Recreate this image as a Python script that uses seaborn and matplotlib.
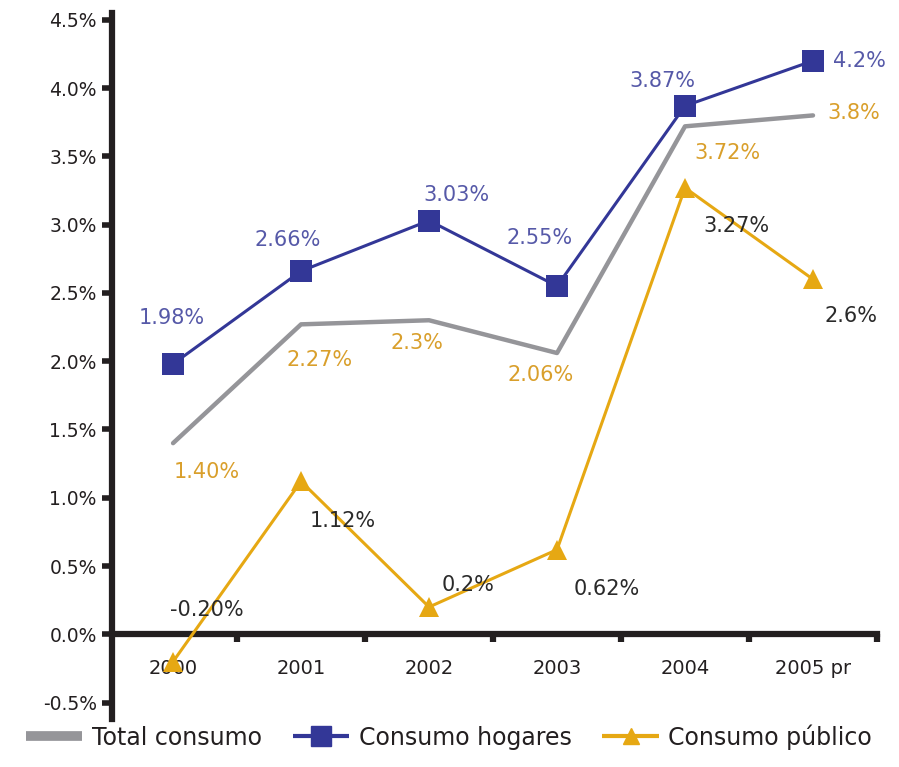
import numpy as np
import pandas as pd
import matplotlib
matplotlib.use('Agg')
import matplotlib.pyplot as plt
from matplotlib.lines import Line2D
import seaborn as sns

sns.set_style('white')
plt.rcParams['font.family'] = ['DejaVu Sans']

years = ['2000', '2001', '2002', '2003', '2004', '2005 pr']
total = [1.40, 2.27, 2.30, 2.06, 3.72, 3.80]
hogares = [1.98, 2.66, 3.03, 2.55, 3.87, 4.20]
publico = [-0.20, 1.12, 0.20, 0.62, 3.27, 2.60]

total_labels = ['1.40%', '2.27%', '2.3%', '2.06%', '3.72%', '3.8%']
hogares_labels = ['1.98%', '2.66%', '3.03%', '2.55%', '3.87%', '4.2%']
publico_labels = ['-0.20%', '1.12%', '0.2%', '0.62%', '3.27%', '2.6%']
yticks = [-0.5, 0, 0.5, 1.0, 1.5, 2.0, 2.5, 3.0, 3.5, 4.0, 4.5]

GRAY = '#959599'
NAVY = '#333797'
ORANGE = '#e6a813'
INK = '#231f20'

# label offsets in pixels (dx right, dy down) from each point
off_total = [(34, 29), (19, 36), (-12, 23), (-16, 22), (42, 27), (41, -2)]
off_hog = [(-1, -46), (-13, -31), (27, -26), (-17, -48), (-23, -25), (46, 0)]
off_pub = [(34, -52), (42, 40), (39, -22), (50, 39), (51, 38), (38, 37)]

df = pd.DataFrame({'x': np.arange(len(years)), 'total': total,
                   'hogares': hogares, 'publico': publico})

fig = plt.figure(figsize=(8.99, 7.67), dpi=100)
ax = fig.add_axes([112 / 899, 1 - 719 / 767, 765 / 899, 706 / 767])

sns.lineplot(data=df, x='x', y='total', color=GRAY, linewidth=3.2,
             ax=ax, zorder=2)
sns.lineplot(data=df, x='x', y='publico', color=ORANGE, linewidth=2.2,
             marker='^', markersize=14, markeredgewidth=0, ax=ax, zorder=3)
sns.lineplot(data=df, x='x', y='hogares', color=NAVY, linewidth=2.2,
             marker='s', markersize=16, markeredgewidth=0, ax=ax, zorder=4)


def put_labels(values, labels, offsets, color):
    for i, (v, lab) in enumerate(zip(values, labels)):
        dx, dy = offsets[i]
        ax.annotate(lab, (i, v), xytext=(dx * 0.72, -dy * 0.72),
                    textcoords='offset points', ha='center', va='center',
                    fontsize=15, color=color, zorder=5)


put_labels(total, total_labels, off_total, '#d99f2b')
put_labels(hogares, hogares_labels, off_hog, '#5659a8')
put_labels(publico, publico_labels, off_pub, '#2a2a2a')

ax.set_xlim(-0.477, 5.5)
ax.set_ylim(-0.62, 4.55)
ax.set_yticks(yticks)
ax.set_yticklabels([f'{t:.1f}%' for t in yticks])
ax.set_xticks(df['x'])
ax.set_xticklabels(years)
ax.set_xticks(np.arange(0.5, 6, 1), minor=True)
ax.set_xlabel('')
ax.set_ylabel('')

for s in ['top', 'right']:
    ax.spines[s].set_visible(False)
ax.spines['bottom'].set_position(('data', 0))
for s in ['left', 'bottom']:
    ax.spines[s].set_linewidth(4.5)
    ax.spines[s].set_color(INK)

ax.tick_params(axis='y', which='major', left=True, length=7, width=4,
               color=INK, labelsize=13.5, pad=4, labelcolor=INK)
ax.tick_params(axis='x', which='major', bottom=False, labelsize=14,
               pad=14, labelcolor=INK)
ax.tick_params(axis='x', which='minor', bottom=True, length=6, width=4.5,
               color=INK)
ax.grid(False)

handles = [
    Line2D([], [], color=GRAY, linewidth=7, solid_capstyle='butt'),
    Line2D([], [], color=NAVY, linewidth=3, marker='s', markersize=14,
           solid_capstyle='butt'),
    Line2D([], [], color=ORANGE, linewidth=3, marker='^', markersize=12,
           solid_capstyle='butt'),
]
leg = fig.legend(handles, ['Total consumo', 'Consumo hogares',
                           'Consumo público'],
                 loc='lower left', bbox_to_anchor=(0.005, -0.005), ncol=3,
                 frameon=False, handlelength=2.4, handletextpad=0.4,
                 columnspacing=1.3, prop={'size': 17})
for t in leg.get_texts():
    t.set_color(INK)

plt.savefig('out.png', dpi=100)
